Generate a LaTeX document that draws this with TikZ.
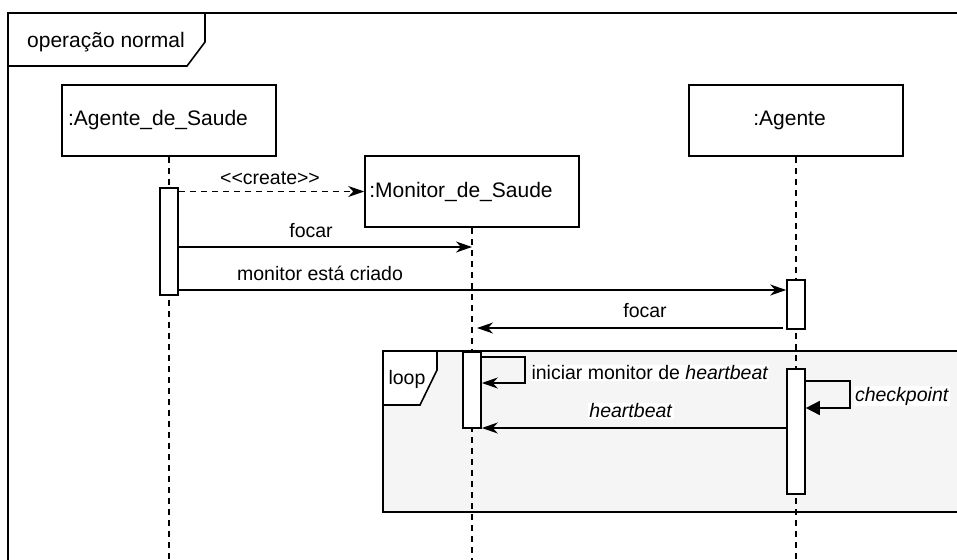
\documentclass[tikz,border=0pt]{standalone}
\usepackage{fontspec}
\setmainfont{Liberation Sans}
\usetikzlibrary{arrows.meta}

\begin{document}
\begin{tikzpicture}[x=1pt, y=-1pt]
    \tikzstyle{object} = [draw, fill=white, shape=rectangle, minimum width=214pt, minimum height=71pt, font=\fontsize{21}{25}\selectfont, line width=1.6pt]
    \tikzstyle{activation} = [draw, fill=white, shape=rectangle, minimum width=18pt, inner sep=0pt, line width=1.6pt]
    \tikzstyle{lifeline} = [dash pattern=on 6pt off 5pt, line width=1.6pt]
    \tikzstyle{msg} = [-{Stealth[length=16pt, width=11pt, inset=5pt]}]
    \tikzstyle{msglabel} = [fill=white, inner sep=1pt, font=\fontsize{19.5}{23}\selectfont]

    \clip (0,0) rectangle (957,559);

    % frames
    \draw [line width=1.6pt] (8,13) rectangle (975,575);
    \draw [line width=1.6pt] (8,66) -- (187,66) -- (205,42) -- (205,13);
    \node [font=\fontsize{21}{25}\selectfont] (title) at (106,42) {operação normal};

    \draw [line width=1.6pt, fill=black!4] (383,351) rectangle (975,512);
    \draw [line width=1.6pt, fill=white] (383,351) -- (383,405) -- (420,405) -- (437,370) -- (437,351) -- cycle;
    \node [font=\fontsize{19.5}{23}\selectfont] (loop) at (407,379) {loop};

    % objects
    \node [object] (saude) at (169,120.5) {\kern-22pt:Agente\_de\_Saude};
    \node [object] (monitor) at (472,191.5) {\kern-22pt:Monitor\_de\_Saude};
    \node [object] (agente) at (796,120.5) {\kern-13pt:Agente};

    \coordinate (saudeEnd) at (169,565);
    \coordinate (monitorEnd) at (472,565);
    \coordinate (agenteEnd) at (796,565);
    \draw [lifeline] (saude) -- (saudeEnd);
    \draw [lifeline] (monitor) -- (monitorEnd);
    \draw [lifeline] (agente) -- (agenteEnd);

    \node [activation, minimum height=107pt] (act1) at (169,241.5) {};
    \node [activation, minimum height=49pt] (act2) at (796,304.5) {};
    \node [activation, minimum height=76pt] (act3) at (472,390) {};
    \node [activation, minimum height=125pt] (act4) at (796,431.5) {};

    % message ends
    \coordinate (f1) at (472,247);
    \coordinate (m1) at (178,290);
    \coordinate (f2) at (783,328);
    \coordinate (f2end) at (477,328);
    \coordinate (i1) at (525,357);
    \coordinate (i2) at (525,383);
    \coordinate (h1) at (787,428);
    \coordinate (c1) at (850,381);
    \coordinate (c2) at (850,408);

    \begin{scope}[line width=1.6pt]
    \draw [msg, dash pattern=on 6pt off 5pt] (act1.east |- monitor.west) -- (monitor.west);
    \draw [msg] (act1.east |- f1) -- (f1);
    \draw [msg] (m1) -- (act2.west |- m1);
    \draw [msg] (f2) -- (f2end);
    \draw [msg] (act3.east |- i1) -- (i1) -- (i2) -- (act3.east |- i2);
    \draw [msg] (h1) -- (act3.east |- h1);
    \draw [-{Triangle[length=14pt, width=14pt]}] (act4.east |- c1) -- (c1) -- (c2) -- (act4.east |- c2);
    \end{scope}

    % labels
    \node [msglabel] (lcreate) at (270,178) {<\kern0pt<create>\kern0pt>};
    \node [msglabel] (lfocar1) at (311,231) {focar};
    \node [msglabel] (lcriado) at (320,273) {monitor está criado};
    \node [msglabel] (lfocar2) at (645,311) {focar};
    \node [msglabel] (liniciar) at (650,373) {iniciar monitor de \textit{heartbeat}};
    \node [msglabel] (lheart) at (631,411) {\textit{heartbeat}};
    \node [msglabel] (lcheck) at (902,396) {\textit{checkpoint}};
\end{tikzpicture}
\end{document}
